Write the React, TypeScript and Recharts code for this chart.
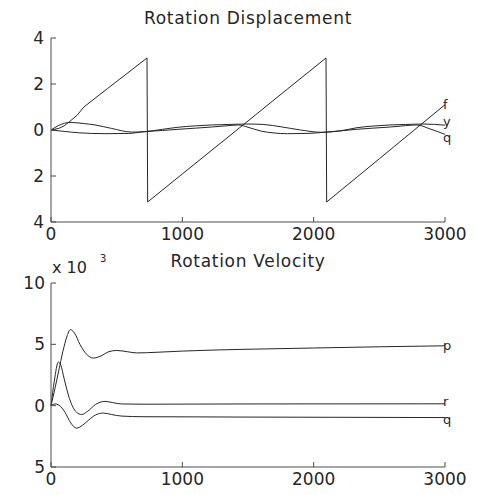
import React from "react";
import { LineChart, Line, XAxis, YAxis } from "recharts";

// shared axis ticks
const timeTicks = [0, 1000, 2000, 3000];
const displacementTicks = [-4, -2, 0, 2, 4];
const velocityTicks = [-5, 0, 5, 10];

// Rotation Displacement (rad) -- f wraps at +/- pi
const fTime = [0, 60, 100, 145, 200, 250, 430, 731, 736, 1000, 1415, 1800, 2094, 2099, 2500, 3000];
const fAngle = [0, 0.07, 0.18, 0.38, 0.65, 1.0, 1.8, 3.13, -3.13, -1.91, 0.0, 1.78, 3.13, -3.13, -1.25, 1.1];

const yTime = [0, 60, 145, 250, 335, 460, 614, 716, 850, 968, 1100, 1224, 1350, 1500, 1620, 1750, 1900, 2060, 2200, 2330, 2450, 2580, 2700, 2840, 3000];
const yAngle = [0, 0.2, 0.33, 0.28, 0.22, 0.07, -0.09, -0.07, 0.03, 0.12, 0.18, 0.22, 0.24, 0.26, 0.24, 0.14, 0.0, -0.1, -0.04, 0.1, 0.17, 0.22, 0.24, 0.26, 0.21];

const qTime = [0, 100, 208, 411, 589, 716, 850, 968, 1100, 1224, 1330, 1426, 1500, 1600, 1700, 1800, 1950, 2076, 2200, 2328, 2450, 2584, 2700, 2786, 2880, 3000];
const qAngle = [0, -0.06, -0.12, -0.16, -0.15, -0.07, -0.02, 0.03, 0.08, 0.13, 0.18, 0.22, 0.12, -0.05, -0.13, -0.16, -0.15, -0.1, -0.04, 0.03, 0.08, 0.13, 0.19, 0.22, 0.06, -0.19];

// Rotation Velocity (x 10^-3)
const pTime = [0, 30, 60, 90, 120, 148, 180, 220, 270, 322, 380, 440, 500, 580, 652, 800, 1000, 1500, 2000, 2500, 3000];
const pRate = [0, 1.4, 2.9, 4.4, 5.6, 6.2, 5.9, 5.0, 4.2, 3.88, 4.05, 4.4, 4.5, 4.4, 4.3, 4.35, 4.45, 4.6, 4.7, 4.8, 4.88];

const rTime = [0, 25, 56, 75, 100, 140, 195, 233, 280, 340, 411, 470, 538, 700, 1500, 3000];
const rRate = [0, 2.0, 3.55, 3.3, 2.2, 0.6, -0.55, -0.72, -0.45, 0.1, 0.35, 0.25, 0.14, 0.12, 0.14, 0.15];

const qvTime = [0, 30, 60, 107, 150, 195, 240, 284, 340, 398, 460, 538, 700, 1500, 3000];
const qvRate = [0, 0.14, 0.05, -0.55, -1.4, -1.83, -1.6, -1.2, -0.75, -0.6, -0.72, -0.85, -0.9, -0.93, -0.97];

const toPoints = (ts: number[], vs: number[]) => ts.map((t, i) => ({ t, v: vs[i] }));

const INK = "#262626";
const AXIS = "#4a4a4a";
const FONT = "'DejaVu Sans', sans-serif";
const tickStyle = { fill: INK, fontSize: 17, fontFamily: FONT };

// name written just past the last point of a series, like matlab's text(x,y,'f')
const endLabel = (name: string, last: number, dy = "0.3em") => (props: any) => {
  if (props.index !== last) return <g key={`e${props.index}`} />;
  const x = props.x ?? props.viewBox?.x;
  const y = props.y ?? props.viewBox?.y;
  return (
    <text key={`l${name}`} x={x - 2} y={y} dy={dy} fontSize={13} fontFamily={FONT} fill={INK}>
      {name}
    </text>
  );
};

export default function App() {
  const fData = toPoints(fTime, fAngle);
  const yData = toPoints(yTime, yAngle);
  const qData = toPoints(qTime, qAngle);
  const pData = toPoints(pTime, pRate);
  const rData = toPoints(rTime, rRate);
  const qvData = toPoints(qvTime, qvRate);

  const xAxis = (
    <XAxis
      type="number"
      dataKey="t"
      domain={[0, 3000]}
      ticks={timeTicks}
      interval={0}
      height={28}
      tickSize={-5}
      tickMargin={11}
      stroke={AXIS}
      tick={tickStyle}
      allowDuplicatedCategory={false}
    />
  );

  return (
    <div style={{ position: "absolute", left: 0, top: 0, width: 478, height: 495, background: "#fff" }}>
      <div style={{ position: "absolute", left: 0, top: 0 }}>
        <LineChart width={478} height={250} margin={{ top: 38, right: 33, bottom: 0, left: 0 }}>
          {xAxis}
          <YAxis
            type="number"
            domain={[-4, 4]}
            ticks={displacementTicks}
            interval={0}
            width={51}
            tickSize={-5}
            tickMargin={12}
            stroke={AXIS}
            tick={tickStyle}
            tickFormatter={(v: number) => String(Math.abs(v))}
          />
          <Line data={fData} dataKey="v" type="linear" stroke={INK} strokeWidth={1} dot={false} isAnimationActive={false} label={endLabel("f", fData.length - 1)} />
          <Line data={yData} dataKey="v" type="monotone" stroke={INK} strokeWidth={1} dot={false} isAnimationActive={false} label={endLabel("y", yData.length - 1, "0.05em")} />
          <Line data={qData} dataKey="v" type="monotone" stroke={INK} strokeWidth={1} dot={false} isAnimationActive={false} label={endLabel("q", qData.length - 1, "0.55em")} />
        </LineChart>
      </div>
      <div style={{ position: "absolute", left: 0, top: 250 }}>
        <LineChart width={478} height={245} margin={{ top: 33, right: 33, bottom: 0, left: 0 }}>
          {xAxis}
          <YAxis
            type="number"
            domain={[-5, 10]}
            ticks={velocityTicks}
            interval={0}
            width={51}
            tickSize={-5}
            tickMargin={11}
            stroke={AXIS}
            tick={tickStyle}
            tickFormatter={(v: number) => String(Math.abs(v))}
          />
          <Line data={pData} dataKey="v" type="monotone" stroke={INK} strokeWidth={1} dot={false} isAnimationActive={false} label={endLabel("p", pData.length - 1)} />
          <Line data={rData} dataKey="v" type="monotone" stroke={INK} strokeWidth={1} dot={false} isAnimationActive={false} label={endLabel("r", rData.length - 1, "0.2em")} />
          <Line data={qvData} dataKey="v" type="monotone" stroke={INK} strokeWidth={1} dot={false} isAnimationActive={false} label={endLabel("q", qvData.length - 1, "0.5em")} />
        </LineChart>
      </div>
      <svg width={478} height={495} style={{ position: "absolute", left: 0, top: 0, pointerEvents: "none" }}>
        <text x={248} y={24} textAnchor="middle" fontSize={17} letterSpacing={0.7} fontFamily={FONT} fill={INK}>
          Rotation Displacement
        </text>
        <text x={248} y={267} textAnchor="middle" fontSize={17} letterSpacing={0.7} fontFamily={FONT} fill={INK}>
          Rotation Velocity
        </text>
        <text x={52} y={273} fontSize={16} fontFamily={FONT} fill={INK}>
          x 10
        </text>
        <text x={100} y={262} fontSize={10} fontFamily={FONT} fill={INK}>
          3
        </text>
      </svg>
    </div>
  );
}
